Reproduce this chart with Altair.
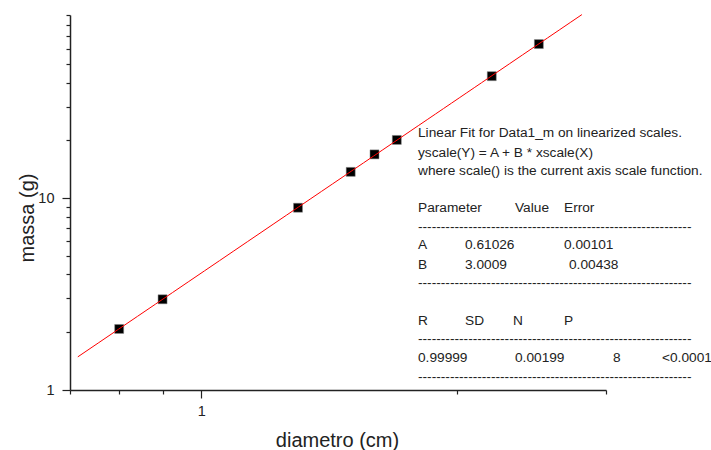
import altair as alt
import pandas as pd

# ---- data ----
diametro = [0.8, 0.9, 1.3, 1.5, 1.6, 1.7, 2.2, 2.5]
massa = [2.08, 2.97, 8.91, 13.7, 16.9, 20.1, 43.2, 63.5]

x_major = [1]
x_minor = [0.7, 0.8, 0.9, 2, 3]
y_major = [1, 10]
y_minor = [2, 3, 4, 5, 6, 7, 8, 9, 20, 30, 40, 50, 60, 70, 80, 90]

fit_extent = [0.715, 2.81]

# fit report text (content)
dash = "-" * 60
report_rows = [
    ["Linear Fit for Data1_m on linearized scales."],
    ["yscale(Y) = A + B * xscale(X)"],
    ["where scale() is the current axis scale function."],
    ["Parameter", "Value", "Error"],
    [dash],
    ["A", "0.61026", "0.00101"],
    ["B", "3.0009", "0.00438"],
    [dash],
    ["R", "SD", "N", "P"],
    [dash],
    ["0.99999", "0.00199", "8", "<0.0001"],
    [dash],
]

# ---- layout (pixels relative to plot origin) ----
OX, OY = 70, 15
row_y = [133.3, 153.3, 171, 207.7, 226.7, 245, 265, 282.7, 320.7, 339.3, 357.7, 376.7]
row_cols = [
    [418], [418], [418],
    [418, 515, 564],
    [418],
    [418, 465, 564],
    [418, 465, 569],
    [418],
    [418, 465, 513, 564],
    [418],
    [418, 515, 613, 662],
    [418],
]

recs = []
for texts, cols, y in zip(report_rows, row_cols, row_y):
    for t, x in zip(texts, cols):
        recs.append({"t": t, "px": x - OX, "py": y - OY})
report = pd.DataFrame(recs)

df = pd.DataFrame({"d": diametro, "m": massa})

FONT = "Liberation Sans"
W, H = 536, 375

xscale = alt.Scale(type="log", domain=[0.7, 3.0], nice=False)
yscale = alt.Scale(type="log", domain=[1, 90], nice=False)


def major_test(vals):
    return " || ".join(f"datum.value == {v}" for v in vals)


axis_common = dict(grid=False, domainColor="#222", domainWidth=1.5,
                   tickColor="#222", tickWidth=1.2, format="~g",
                   labelFont=FONT, labelFontSize=14.5, labelColor="#222",
                   titleFont=FONT, titleFontSize=20, titleFontWeight="normal",
                   titleColor="#222")

x_axis = alt.Axis(
    values=sorted(x_major + x_minor),
    labelExpr=f"({major_test(x_major)}) ? datum.label : ''",
    tickSize={"condition": {"test": major_test(x_major), "value": 8}, "value": 4},
    labelPadding=17, labelBaseline="alphabetic",
    title="diametro (cm)", titleX=267, titleY=56, titleBaseline="alphabetic",
    orient="bottom", **axis_common)

y_axis = alt.Axis(
    values=sorted(y_major + y_minor),
    labelExpr=f"({major_test(y_major)}) ? datum.label : ''",
    tickSize={"condition": {"test": major_test(y_major), "value": 8}, "value": 4},
    labelPadding=8,
    title="massa (g)", titleX=-37, titleY=202.5, titleAngle=-90,
    titleBaseline="alphabetic", orient="left", **axis_common)

points = alt.Chart(df).mark_square(size=81, color="#000", opacity=1,
                                   stroke="#888", strokeWidth=0.5).encode(
    x=alt.X("d:Q", scale=xscale, axis=x_axis),
    y=alt.Y("m:Q", scale=yscale, axis=y_axis),
)

fit = alt.Chart(df).transform_regression(
    "d", "m", method="pow", extent=fit_extent
).mark_line(color="#ff0000", strokeWidth=1).encode(
    x=alt.X("d:Q", scale=xscale),
    y=alt.Y("m:Q", scale=yscale),
)

plot = alt.layer(points, fit)

text = alt.Chart(report).mark_text(align="left", baseline="middle", font=FONT,
                                   fontSize=13.7, color="#222").encode(
    x=alt.X("px:Q", scale=None, axis=None),
    y=alt.Y("py:Q", scale=None, axis=None),
    text="t:N",
)

chart = alt.layer(plot, text).resolve_scale(
    x="independent", y="independent"
).properties(
    width=W, height=H,
    padding={"left": OX, "top": OY, "right": 711 - OX - W, "bottom": 450 - OY - H},
    autosize=alt.AutoSizeParams(type="none"),
    background="white",
).configure_view(stroke=None)

chart.save("out.html", embed_options={"renderer": "svg", "actions": False})
